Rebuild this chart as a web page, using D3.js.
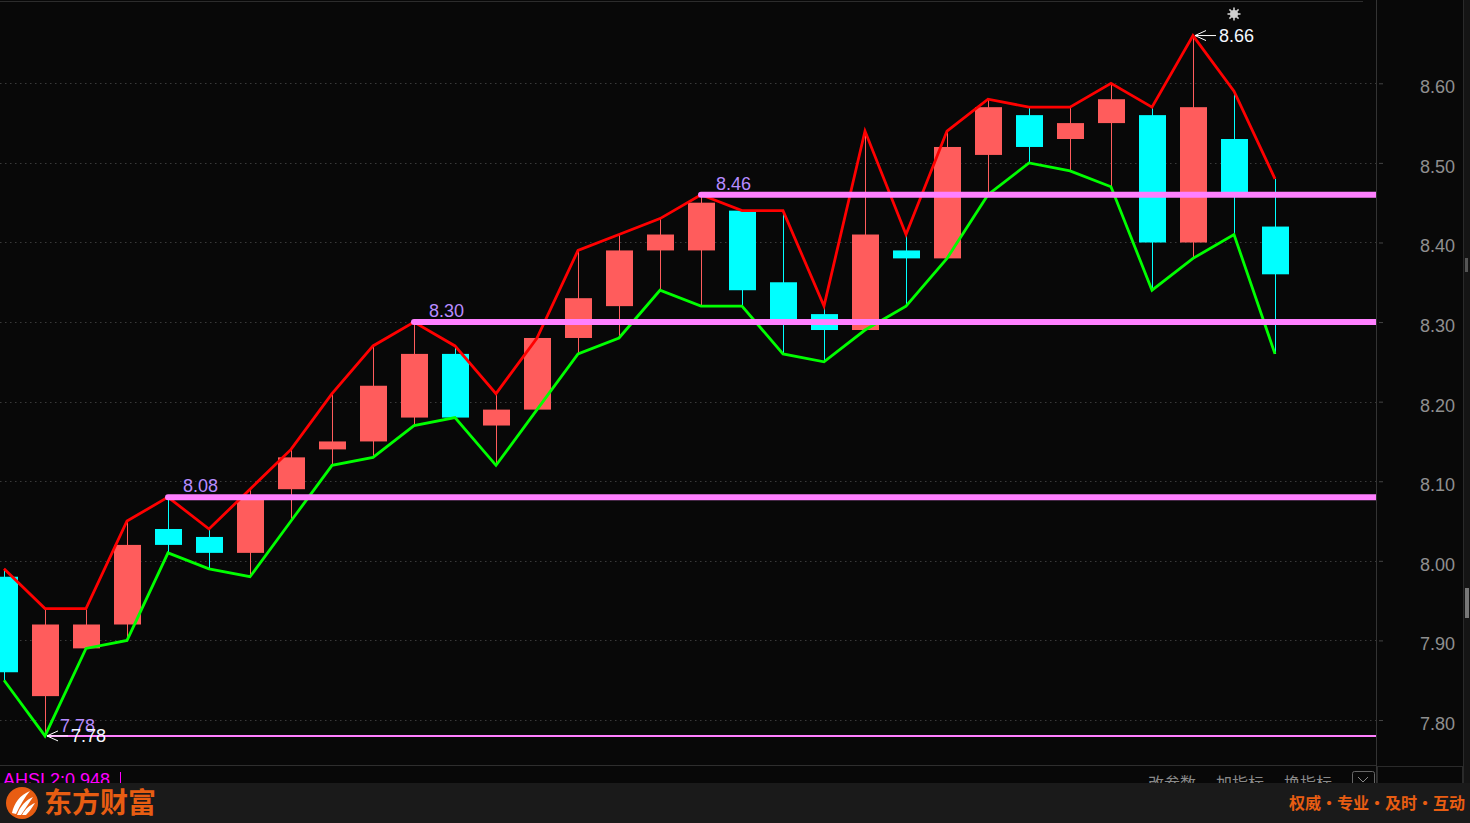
<!DOCTYPE html>
<html>
<head>
<meta charset="utf-8">
<script src="https://cdn.jsdelivr.net/npm/d3@7"></script>
<style>
html,body{margin:0;padding:0;background:#080808;overflow:hidden;}
svg{display:block;}
</style>
</head>
<body>
<svg id="chart" width="1470" height="823"></svg>
<script>
// ---- data ----
const days  = d3.range(32).map(i => "K" + (i + 1));
const open  = [7.98,7.83,7.89,7.92,8.04,8.03,8.01,8.09,8.14,8.15,8.18,8.26,8.17,8.19,8.28,8.32,8.39,8.39,8.44,8.35,8.31,8.29,8.39,8.38,8.51,8.56,8.53,8.55,8.56,8.40,8.53,8.42];
const high  = [7.99,7.94,7.94,8.05,8.08,8.04,8.09,8.14,8.21,8.27,8.30,8.27,8.21,8.28,8.39,8.41,8.43,8.46,8.44,8.44,8.32,8.54,8.41,8.54,8.58,8.57,8.57,8.60,8.57,8.66,8.59,8.48];
const low   = [7.85,7.78,7.89,7.90,8.01,7.99,7.98,8.05,8.12,8.13,8.17,8.18,8.12,8.19,8.26,8.28,8.34,8.32,8.32,8.26,8.25,8.29,8.32,8.38,8.46,8.50,8.49,8.47,8.34,8.38,8.41,8.26];
const close = [7.86,7.92,7.92,8.02,8.02,8.01,8.08,8.13,8.15,8.22,8.26,8.18,8.19,8.28,8.33,8.39,8.41,8.45,8.34,8.30,8.29,8.41,8.38,8.52,8.57,8.52,8.55,8.58,8.40,8.57,8.46,8.36];
const yTicks = [7.80,7.90,8.00,8.10,8.20,8.30,8.40,8.50,8.60];
// horizontal level lines: value, index of start bar, thick?
const levelValues = [8.46, 8.30, 8.08, 7.78];
const levelStart  = [17, 10, 4, 1];
const levelThick  = [true, true, true, false];
const peakValue = 8.66, peakIndex = 29;
const troughValue = 7.78, troughIndex = 1;
const footerLeft = "东方财富";
const footerRight = "权威·专业·及时·互动";
const indicatorText = "AHSI 2:0.948";
const menuItems = ["改参数", "加指标", "换指标"];

// ---- layout ----
const W = 1470, H = 823;
const plotRight = 1376;
const svg = d3.select("#chart");
svg.append("rect").attr("width", W).attr("height", H).attr("fill", "#080808");

const x = d3.scaleLinear().domain([0, 31]).range([4, 1275]);
const y = d3.scaleLinear().domain([7.80, 8.60]).range([720, 83.3]);

const UP = "#ff5c5c", DOWN = "#00ffff";
const labelFont = "'Liberation Sans', Arial, sans-serif";

svg.append("defs").append("clipPath").attr("id", "plotclip")
  .append("rect").attr("x", 0).attr("y", 0).attr("width", plotRight).attr("height", 765);

// grid (dotted)
const grid = svg.append("g");
grid.selectAll("line").data(yTicks).join("line")
  .attr("x1", 0).attr("x2", plotRight)
  .attr("y1", d => Math.round(y(d)) + 0.5).attr("y2", d => Math.round(y(d)) + 0.5)
  .attr("stroke", "#3a3a3a").attr("stroke-width", 1).attr("stroke-dasharray", "1.5,3.5");

// frame lines
svg.append("line").attr("x1", 0).attr("x2", 1363).attr("y1", 1.5).attr("y2", 1.5).attr("stroke", "#2c2c2c");
svg.append("line").attr("x1", plotRight + 0.5).attr("x2", plotRight + 0.5).attr("y1", 0).attr("y2", 783).attr("stroke", "#333");
svg.append("line").attr("x1", 1463.5).attr("x2", 1463.5).attr("y1", 0).attr("y2", 783).attr("stroke", "#2a2a2a");
svg.append("rect").attr("x", 1464).attr("y", 0).attr("width", 6).attr("height", 783).attr("fill", "#151515");
svg.append("rect").attr("x", 1465).attr("y", 258).attr("width", 3).attr("height", 14).attr("fill", "#555");
svg.append("rect").attr("x", 1465).attr("y", 588).attr("width", 4).attr("height", 30).attr("fill", "#777");
svg.append("line").attr("x1", 0).attr("x2", plotRight).attr("y1", 765.5).attr("y2", 765.5).attr("stroke", "#2e2e2e");

// right axis
const axis = d3.axisRight(y).tickValues(yTicks).tickFormat(d3.format(".2f")).tickSize(4).tickPadding(36);
const ag = svg.append("g").attr("transform", `translate(${plotRight + 1},0)`).call(axis);
ag.select(".domain").remove();
ag.selectAll(".tick line").attr("stroke", "#444").attr("x1", 2).attr("x2", 6);
ag.selectAll(".tick text").attr("fill", "#8f8f8f").attr("font-size", 18)
  .attr("font-family", labelFont).attr("text-anchor", "end").attr("x", 78).attr("dy", "0.52em");

const plot = svg.append("g").attr("clip-path", "url(#plotclip)");

// candles
const idx = d3.range(days.length);
const bw = 27;
const cg = plot.append("g");
cg.selectAll("line.wick").data(idx).join("line").attr("class", "wick")
  .attr("x1", i => Math.round(x(i)) + 0.5).attr("x2", i => Math.round(x(i)) + 0.5)
  .attr("y1", i => y(high[i])).attr("y2", i => y(low[i]))
  .attr("stroke", i => close[i] >= open[i] ? UP : DOWN).attr("stroke-width", 1);
cg.selectAll("rect.body").data(idx).join("rect").attr("class", "body")
  .attr("x", i => Math.round(x(i)) - 13)
  .attr("width", bw)
  .attr("y", i => y(Math.max(open[i], close[i])))
  .attr("height", i => Math.max(1, Math.abs(y(open[i]) - y(close[i]))))
  .attr("fill", i => close[i] >= open[i] ? UP : DOWN);

// high / low lines
const lineGen = arr => d3.line().x(i => x(i)).y(i => y(arr[i]))(idx);
plot.append("path").attr("d", lineGen(low)).attr("fill", "none").attr("stroke", "#00ff00").attr("stroke-width", 2.8);
plot.append("path").attr("d", lineGen(high)).attr("fill", "none").attr("stroke", "#ff0000").attr("stroke-width", 2.8);

// level lines
const lv = plot.append("g");
levelValues.forEach((v, k) => {
  lv.append("line")
    .attr("x1", x(levelStart[k]) + (levelThick[k] ? 0 : 2)).attr("x2", plotRight)
    .attr("y1", y(v)).attr("y2", y(v))
    .attr("stroke", "#ff80ff").attr("stroke-width", levelThick[k] ? 6 : 2)
    .attr("stroke-linecap", levelThick[k] ? "round" : "butt");
  lv.append("text")
    .attr("x", x(levelStart[k]) + 15).attr("y", y(v) - (levelThick[k] ? 5 : 4))
    .attr("fill", "#b88cff").attr("font-size", 18).attr("font-family", labelFont)
    .text(d3.format(".2f")(v));
});

// annotations with arrows (max / min)
function arrowLabel(val, i, dy) {
  const px = x(i), py = y(val);
  const g = svg.append("g").attr("stroke", "#ffffff").attr("stroke-width", 1).attr("fill", "none");
  g.append("line").attr("x1", px + 2).attr("x2", px + 23).attr("y1", py).attr("y2", py);
  g.append("polyline").attr("points", `${px + 13},${py - 5} ${px + 2},${py} ${px + 13},${py + 5}`);
  svg.append("text").attr("x", px + 26).attr("y", py + dy)
    .attr("fill", "#f4f8ff").attr("font-size", 18).attr("font-family", labelFont)
    .text(d3.format(".2f")(val));
}
arrowLabel(peakValue, peakIndex, 6.5);
arrowLabel(troughValue, troughIndex, 6.5);

// small gear/sun symbol above the peak
(function(){
  const cx = x(30), cy = 14;
  const g = svg.append("g");
  g.append("circle").attr("cx", cx).attr("cy", cy).attr("r", 4).attr("fill", "#cfcfcf");
  d3.range(8).forEach(k => {
    const a = k * Math.PI / 4;
    g.append("line").attr("x1", cx).attr("y1", cy)
      .attr("x2", cx + 6.5 * Math.cos(a)).attr("y2", cy + 6.5 * Math.sin(a))
      .attr("stroke", "#cfcfcf").attr("stroke-width", 1.6);
  });
})();

// indicator line text & menu (partially hidden under the footer)
svg.append("text").attr("x", 3).attr("y", 786).attr("fill", "#ff00ff")
  .attr("font-size", 18).attr("font-family", labelFont).text(indicatorText);
svg.append("line").attr("x1", 120.5).attr("x2", 120.5).attr("y1", 772).attr("y2", 786).attr("stroke", "#ff00ff");
menuItems.forEach((t, k) => {
  svg.append("text").attr("x", 1148 + k * 68).attr("y", 789).attr("fill", "#8a8a8a")
    .attr("font-size", 16).attr("font-family", "'Noto Sans CJK SC', sans-serif").text(t);
});
svg.append("rect").attr("x", 1352.5).attr("y", 771.5).attr("width", 22).attr("height", 20)
  .attr("fill", "none").attr("stroke", "#666").attr("rx", 2);
svg.append("polyline").attr("points", "1358,777 1363,782 1368,777").attr("fill", "none").attr("stroke", "#888");
svg.append("rect").attr("x", 1377.5).attr("y", 766.5).attr("width", 85).attr("height", 20)
  .attr("fill", "none").attr("stroke", "#2a2a2a");

// footer
svg.append("rect").attr("x", 0).attr("y", 783).attr("width", W).attr("height", 40).attr("fill", "#1a1a1a");
const ORANGE = "#e85d12";
svg.append("circle").attr("cx", 22).attr("cy", 803).attr("r", 16).attr("fill", ORANGE);
const logo = svg.append("g").attr("fill", "#ffffff");
logo.append("path").attr("d", "M12,813 C14,803 20,795 30,791 C25,797 20,805 16,814 Z");
logo.append("path").attr("d", "M17,815 C20,806 26,800 33,797 C29,803 25,809 21,815 Z");
logo.append("path").attr("d", "M22,815 C25,809 30,805 35,803 C32,808 29,812 26,815 Z");
svg.append("text").attr("x", 44).attr("y", 813).attr("fill", ORANGE)
  .attr("font-size", 28).attr("font-weight", "bold")
  .attr("font-family", "'Noto Sans CJK SC', sans-serif").text(footerLeft);
svg.append("text").attr("x", 1465).attr("y", 809).attr("fill", ORANGE).attr("text-anchor", "end")
  .attr("font-size", 16).attr("font-weight", "bold")
  .attr("font-family", "'Noto Sans CJK SC', sans-serif").text(footerRight);
</script>
</body>
</html>
